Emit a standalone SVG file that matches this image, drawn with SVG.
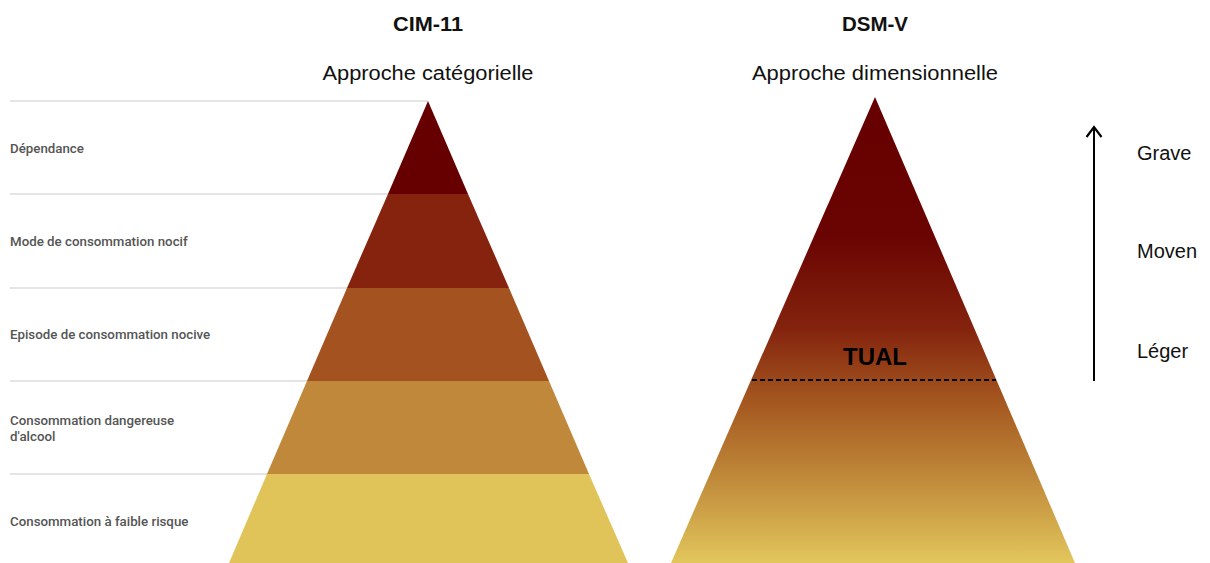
<svg xmlns="http://www.w3.org/2000/svg" width="1210" height="563" viewBox="0 0 1210 563">
<style>
.title{font-family:"Liberation Sans",Arial,sans-serif;font-size:20px;font-weight:bold;fill:#111;text-anchor:middle}
.sub{font-family:"Liberation Sans",Arial,sans-serif;font-size:20px;fill:#111;text-anchor:middle}
.lab{font-family:Roboto,"Liberation Sans",sans-serif;font-size:13.3px;font-weight:500;fill:#555}
.sev{font-family:"Liberation Sans",Arial,sans-serif;font-size:20px;fill:#111}
.sep{stroke:#dddddd;stroke-width:1.5}
</style>
<defs>
<linearGradient id="grad" x1="0" y1="97" x2="0" y2="563" gradientUnits="userSpaceOnUse">
<stop offset="0" stop-color="#660000"/>
<stop offset="0.3" stop-color="#6a0402"/>
<stop offset="0.5" stop-color="#84240e"/>
<stop offset="0.65" stop-color="#a4561f"/>
<stop offset="0.82" stop-color="#c08a3a"/>
<stop offset="1" stop-color="#e2c65c"/>
</linearGradient>
<marker id="arr" markerWidth="20" markerHeight="20" refX="16" refY="10" orient="auto" markerUnits="userSpaceOnUse">
<path d="M6,2.5 L16,10 L6,17.5" fill="none" stroke="#000" stroke-width="2.2"/>
</marker>
</defs>
<g id="titles">
<text class="title" x="428" y="31" textLength="70" lengthAdjust="spacingAndGlyphs">CIM-11</text>
<text class="sub" x="428" y="80" textLength="211" lengthAdjust="spacingAndGlyphs">Approche catégorielle</text>
<text class="title" x="875" y="31" textLength="66" lengthAdjust="spacingAndGlyphs">DSM-V</text>
<text class="sub" x="875" y="80" textLength="246" lengthAdjust="spacingAndGlyphs">Approche dimensionnelle</text>
</g>
<g id="separators">
<line class="sep" x1="10" y1="101" x2="428" y2="101"/>
<line class="sep" x1="10" y1="194" x2="400" y2="194"/>
<line class="sep" x1="10" y1="288" x2="360" y2="288"/>
<line class="sep" x1="10" y1="381" x2="320" y2="381"/>
<line class="sep" x1="10" y1="474" x2="280" y2="474"/>
</g>
<g id="labels">
<text class="lab" x="10" y="153">Dépendance</text>
<text class="lab" x="10" y="246">Mode de consommation nocif</text>
<text class="lab" x="10" y="339">Episode de consommation nocive</text>
<text class="lab" x="10" y="425">Consommation dangereuse</text>
<text class="lab" x="10" y="441">d'alcool</text>
<text class="lab" x="10" y="526">Consommation à faible risque</text>
</g>
<g id="pyramid-cim">
<polygon points="428,101 468,194 388,194" fill="#660000"/>
<polygon points="388,194 468,194 509,288 347,288" fill="#86230e"/>
<polygon points="347,288 509,288 549,381 307,381" fill="#a45220"/>
<polygon points="307,381 549,381 589,474 267,474" fill="#c0883a"/>
<polygon points="267,474 589,474 628,563 229,563" fill="#e0c45a"/>
</g>
<g id="pyramid-dsm">
<polygon points="875,97 1075,563 671,563" fill="url(#grad)"/>
<line x1="752" y1="380" x2="996" y2="380" stroke="#000" stroke-width="2" stroke-dasharray="5,3"/>
<text x="875" y="365" font-family="'Liberation Sans',Arial,sans-serif" font-size="23" font-weight="bold" fill="#000" text-anchor="middle" textLength="64" lengthAdjust="spacingAndGlyphs">TUAL</text>
</g>
<g id="connectors">
<line x1="1094" y1="381" x2="1094" y2="127" stroke="#000" stroke-width="2" marker-end="url(#arr)"/>
</g>
<g id="severity">
<text class="sev" x="1137" y="160">Grave</text>
<text class="sev" x="1137" y="258">Moven</text>
<text class="sev" x="1137" y="358">Léger</text>
</g>
</svg>
